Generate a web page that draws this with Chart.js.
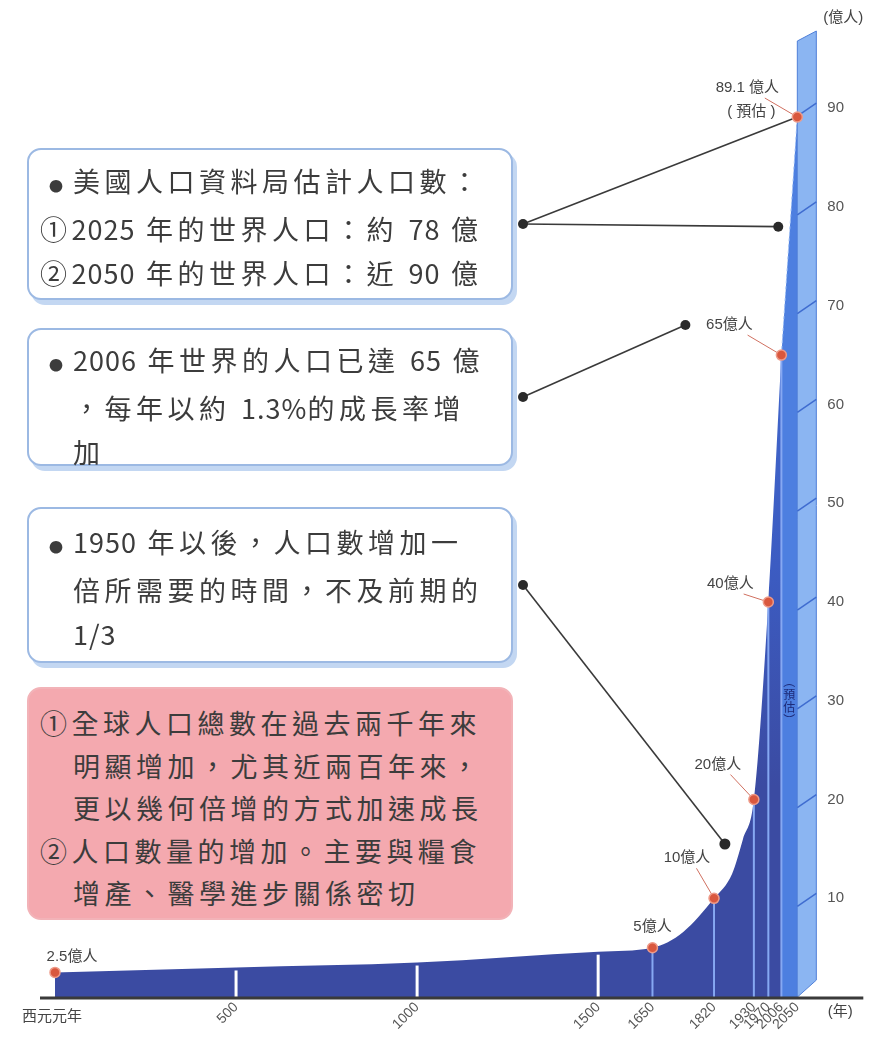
<!DOCTYPE html>
<html>
<head>
<meta charset="utf-8">
<script src="https://cdn.jsdelivr.net/npm/chart.js@4.4.1/dist/chart.umd.min.js"></script>
<style>
  body { margin: 0; background: #fff; overflow: hidden; }
  #wrap { position: relative; width: 882px; height: 1043px; }
  #c { position: absolute; left: 0; top: 0; }
  .note {
    position: absolute; left: 27px; width: 486px; box-sizing: border-box;
    border: 2px solid #9cb9e3; border-radius: 14px; background: #fff;
    box-shadow: 4px 5px 0 #c3d7f2;
    font-family: "Noto Sans CJK TC", sans-serif; font-size: 27px; color: #3c3c3c;
    letter-spacing: 4.5px; line-height: 44px;
  }
  .note.red { background: #f4a9af; border-color: #f2b3b8; box-shadow: none; line-height: 42.5px; }
  .ln { white-space: nowrap; }
  .b { display: inline-block; width: 24px; font-size: 14px; vertical-align: middle; letter-spacing: 0; }
  .n { letter-spacing: 1px; }
</style>
</head>
<body>
<div id="wrap">
  <canvas id="c" width="882" height="1043"></canvas>
  <div class="note" id="n1" style="top:148px;height:152px;padding-top:9px;">
    <div class="ln" style="padding-left:20px"><span class="b">●</span>美國人口資料局估計人口數：</div>
    <div class="ln" style="padding-left:11px">①<span class="n">2025</span> 年的世界人口：約 <span class="n">78</span> 億</div>
    <div class="ln" style="padding-left:11px">②<span class="n">2050</span> 年的世界人口：近 <span class="n">90</span> 億</div>
  </div>
  <div class="note" id="n2" style="top:328px;height:138px;padding-top:8px;">
    <div class="ln" style="padding-left:20px"><span class="b">●</span><span class="n">2006</span> 年世界的人口已達 <span class="n">65</span> 億</div>
    <div class="ln" style="padding-left:44px">，每年以約 <span class="n">1.3%</span>的成長率增</div>
    <div class="ln" style="padding-left:44px">加</div>
  </div>
  <div class="note" id="n3" style="top:507px;height:156px;padding-top:11px;">
    <div class="ln" style="padding-left:20px"><span class="b">●</span><span class="n">1950</span> 年以後，人口數增加一</div>
    <div class="ln" style="padding-left:44px">倍所需要的時間，不及前期的</div>
    <div class="ln" style="padding-left:44px"><span class="n">1/3</span></div>
  </div>
  <div class="note red" id="n4" style="top:687px;height:233px;padding-top:13px;">
    <div class="ln" style="padding-left:11px">①全球人口總數在過去兩千年來</div>
    <div class="ln" style="padding-left:44px">明顯增加，尤其近兩百年來，</div>
    <div class="ln" style="padding-left:44px">更以幾何倍增的方式加速成長</div>
    <div class="ln" style="padding-left:11px">②人口數量的增加。主要與糧食</div>
    <div class="ln" style="padding-left:44px">增產、醫學進步關係密切</div>
  </div>
</div>
<script>
// 世界人口 (億人)，依年份
const years = [0, 500, 1000, 1500, 1650, 1735, 1820, 1870, 1900, 1930, 1970, 2006];
const population = [2.5, 3.0, 3.5, 4.6, 5, 6.6, 10, 12.5, 16, 20, 40, 65];
const forecastYears = [2006, 2050];
const forecastPopulation = [65, 89.1];

// 標示的點
const markYears = [0, 1650, 1820, 1930, 1970, 2006, 2050];
const markValues = [2.5, 5, 10, 20, 40, 65, 89.1];
const markLabels = ['2.5億人', '5億人', '10億人', '20億人', '40億人', '65億人', '89.1 億人'];

// 軸
const tickYears = [0, 500, 1000, 1500, 1650, 1820, 1930, 1970, 2006, 2050];
const valueTicks = [10, 20, 30, 40, 50, 60, 70, 80, 90];
const estimate2025 = 78;

// 標籤相對於點的位置 (樣式)
const labelOffsets = [[17, -16], [0, -21], [-27, -40], [-36, -35], [-38, -18], [-52, -30], [-50, -29]];
const hasLeader = [false, false, true, true, true, true, true];

function anchorOf(id) {
    const el = document.getElementById(id);
    return { x: el.offsetLeft + el.offsetWidth + 10, y: el.offsetTop + el.offsetHeight / 2 };
}

function line(ctx, x1, y1, x2, y2) {
    ctx.beginPath();
    ctx.moveTo(x1, y1);
    ctx.lineTo(x2, y2);
    ctx.stroke();
}

function dot(ctx, x, y, r, color) {
    ctx.beginPath();
    ctx.arc(x, y, r, 0, Math.PI * 2);
    ctx.fillStyle = color;
    ctx.fill();
}

// 裝飾: 直線、立體側面、底線、連接線
const decor = {
    id: 'decor',
    beforeDatasetDraw(chart, args) {
        if (args.index !== 0) return;
        const ctx = chart.ctx;
        const xs = chart.scales.x, ys = chart.scales.y;
        const base = ys.getPixelForValue(0);
        ctx.save();

        // 年份直線
        tickYears.forEach(yr => {
            const i = years.indexOf(yr);
            if (yr === 0 || i < 0) return;
            const px = xs.getPixelForValue(yr);
            const top = ys.getPixelForValue(population[i]);
            ctx.strokeStyle = yr < 1600 ? '#ffffff' : '#86a8f2';
            ctx.lineWidth = yr < 1600 ? 3 : 2;
            line(ctx, px, base, px, top + 3);
        });

        // 立體側面
        const fx = xs.getPixelForValue(2050), fw = 19;
        const ft = ys.getPixelForValue(ys.max) - 8;
        ctx.beginPath();
        ctx.moveTo(fx, base);
        ctx.lineTo(fx + fw, base - 17);
        ctx.lineTo(fx + fw, ft);
        ctx.lineTo(fx, ft + 10);
        ctx.closePath();
        ctx.fillStyle = '#8bb5f2';
        ctx.fill();
        ctx.strokeStyle = '#4f7fd8';
        ctx.lineWidth = 1;
        ctx.stroke();
        ctx.strokeStyle = '#3f6cd0';
        ctx.lineWidth = 1.5;
        valueTicks.forEach(v => {
            const py = ys.getPixelForValue(v);
            line(ctx, fx, py + 8, fx + fw, py - 5);
        });

        // (預估) 直書
        ctx.fillStyle = '#1e2c7a';
        ctx.font = '12px "Noto Sans CJK TC"';
        ctx.textAlign = 'center';
        ctx.textBaseline = 'middle';
        const cx = (xs.getPixelForValue(2006) + xs.getPixelForValue(2050)) / 2;
        ['︵', '預', '估', '︶'].forEach((ch, k) => {
            ctx.fillText(ch, cx, ys.getPixelForValue(32) + k * 13);
        });

        // 底線
        ctx.strokeStyle = '#3a3a3a';
        ctx.lineWidth = 3;
        line(ctx, chart.chartArea.left - 15, base + 1, fx + 66, base + 1);

        // 連接線
        const marks = chart.getDatasetMeta(0).data;
        const a1 = anchorOf('n1'), a2 = anchorOf('n2'), a3 = anchorOf('n3');
        ctx.strokeStyle = '#3a3a3a';
        ctx.lineWidth = 1.6;
        line(ctx, a1.x, a1.y, marks[6].x, marks[6].y);
        line(ctx, a1.x, a1.y, xs.getPixelForValue(2025) - 10, ys.getPixelForValue(estimate2025));
        line(ctx, a2.x, a2.y, marks[5].x - 96, marks[5].y - 30);
        line(ctx, a3.x, a3.y, xs.getPixelForValue(1850), ys.getPixelForValue(15.5));

        // 標籤引線
        ctx.strokeStyle = '#d07060';
        ctx.lineWidth = 1;
        marks.forEach((m, i) => {
            if (!hasLeader[i]) return;
            const lx = m.x + labelOffsets[i][0], ly = m.y + labelOffsets[i][1];
            line(ctx, lx + (m.x - lx) * 0.35, ly + 10, m.x, m.y);
        });
        ctx.restore();
    },
    afterDatasetsDraw(chart) {
        const ctx = chart.ctx;
        const xs = chart.scales.x, ys = chart.scales.y;
        const marks = chart.getDatasetMeta(0).data;
        const base = ys.getPixelForValue(0);
        ctx.save();

        // 黑點
        const a1 = anchorOf('n1'), a2 = anchorOf('n2'), a3 = anchorOf('n3');
        [a1, a2, a3].forEach(a => dot(ctx, a.x, a.y, 5, '#2a2a2a'));
        dot(ctx, xs.getPixelForValue(2025) - 10, ys.getPixelForValue(estimate2025), 5, '#2a2a2a');
        dot(ctx, marks[5].x - 96, marks[5].y - 30, 5, '#2a2a2a');
        dot(ctx, xs.getPixelForValue(1850), ys.getPixelForValue(15.5), 5.5, '#2a2a2a');

        // 點標籤
        ctx.fillStyle = '#444';
        ctx.font = '15px "Liberation Sans", "Noto Sans CJK TC"';
        ctx.textAlign = 'center';
        ctx.textBaseline = 'middle';
        marks.forEach((m, i) => {
            ctx.fillText(markLabels[i], m.x + labelOffsets[i][0], m.y + labelOffsets[i][1]);
        });
        ctx.fillText('( 預估 )', marks[6].x + labelOffsets[6][0] + 4, marks[6].y + labelOffsets[6][1] + 24);

        // 軸單位
        const fx = xs.getPixelForValue(2050);
        ctx.fillText('(億人)', fx + 46, ys.getPixelForValue(ys.max) - 21);
        ctx.fillText('(年)', fx + 43, base + 15);
        ctx.fillText('西元元年', xs.getPixelForValue(0) - 3, base + 20);
        ctx.restore();
    }
};

new Chart(document.getElementById('c'), {
    type: 'line',
    data: {
        datasets: [
            {
                label: 'marks',
                data: markYears.map((x, i) => ({ x: x, y: markValues[i] })),
                showLine: false,
                fill: false,
                clip: false,
                pointRadius: 5,
                pointBackgroundColor: '#d9573e',
                pointBorderColor: '#ee9a88',
                pointBorderWidth: 1.5
            },
            {
                label: 'history',
                data: years.map((x, i) => ({ x: x, y: population[i] })),
                fill: 'origin',
                backgroundColor: function (c) {
                    const a = c.chart.chartArea;
                    if (!a) return '#3b4ba2';
                    const g = c.chart.ctx.createLinearGradient(0, a.bottom, 0, a.top);
                    g.addColorStop(0, '#3b4ba2');
                    g.addColorStop(0.22, '#3b4ba2');
                    g.addColorStop(0.45, '#3c5cc2');
                    g.addColorStop(1, '#4676d8');
                    return g;
                },
                borderWidth: 0,
                pointRadius: 0,
                cubicInterpolationMode: 'monotone'
            },
            {
                label: 'forecast',
                data: forecastYears.map((x, i) => ({ x: x, y: forecastPopulation[i] })),
                fill: 'origin',
                backgroundColor: '#4d7fe0',
                borderColor: '#9fc0f5',
                borderWidth: 1,
                borderDash: [3, 3],
                pointRadius: 0
            }
        ]
    },
    options: {
        responsive: false,
        animation: false,
        events: [],
        layout: { padding: { left: 55, right: 8, top: 20, bottom: 8 } },
        plugins: { legend: { display: false }, tooltip: { enabled: false } },
        scales: {
            x: {
                type: 'linear',
                min: 0,
                max: 2050,
                afterBuildTicks: s => { s.ticks = tickYears.map(v => ({ value: v })); },
                ticks: {
                    autoSkip: false,
                    maxRotation: 45,
                    minRotation: 45,
                    padding: 2,
                    color: '#555',
                    font: { family: 'Liberation Sans', size: 14 },
                    callback: v => v === 0 ? '' : String(v)
                },
                grid: { display: false, drawTicks: false },
                border: { display: false }
            },
            y: {
                position: 'right',
                min: 0,
                max: 97,
                afterBuildTicks: s => { s.ticks = valueTicks.map(v => ({ value: v })); },
                ticks: {
                    padding: 30,
                    color: '#555',
                    font: { family: 'Liberation Sans', size: 15 },
                    callback: v => String(v)
                },
                grid: { display: false, drawTicks: false },
                border: { display: false }
            }
        }
    },
    plugins: [decor]
});
</script>
</body>
</html>
